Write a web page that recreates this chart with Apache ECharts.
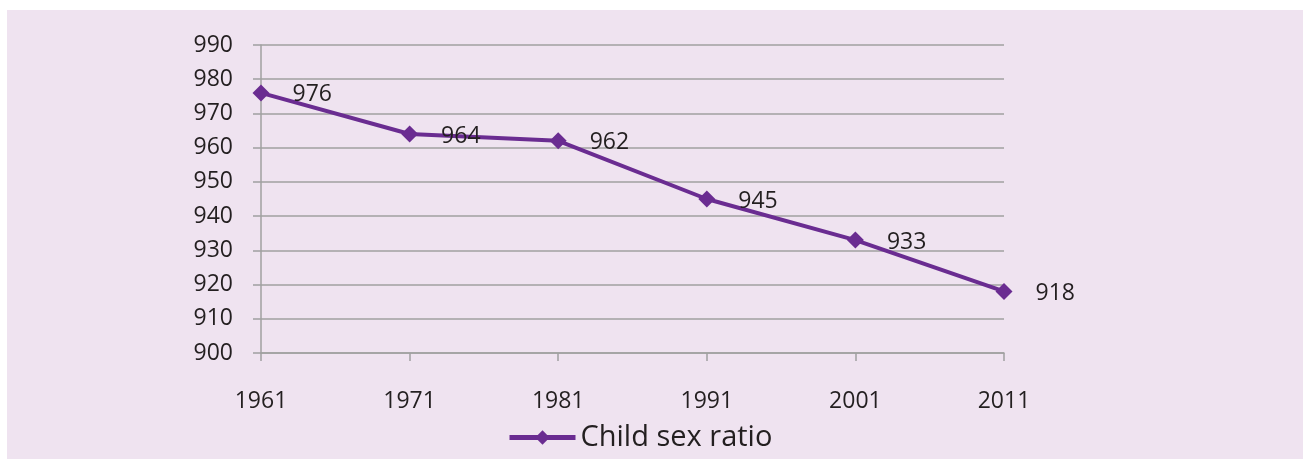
<!DOCTYPE html>
<html>
<head>
<meta charset="utf-8">
<script src="https://cdn.jsdelivr.net/npm/echarts@6/dist/echarts.min.js"></script>
<style>
  html, body { margin: 0; padding: 0; background: #ffffff; }
  #grafico { position: absolute; left: 7px; top: 10px; width: 1296px; height: 449px; background: #efe3f0; }
</style>
</head>
<body>
<div id="grafico"></div>
<script>
// data
const years = ["1961", "1971", "1981", "1991", "2001", "2011"];
const childSexRatio = [976, 964, 962, 945, 933, 918];
const seriesName = "Child sex ratio";

const textColor = "#231f20";
const lineColor = "#6a2c91";
const gridColor = "#a0a0a0";

let options = {
  animation: false,
  textStyle: { fontFamily: "Open Sans" },
  grid: { left: 254, right: 299, top: 35, bottom: 106 },
  legend: {
    left: 495,
    bottom: 2,
    itemWidth: 66,
    itemHeight: 18,
    itemGap: 10,
    lineStyle: { width: 5 },
    textStyle: { fontSize: 29, color: textColor, fontFamily: "Open Sans" },
    data: [seriesName]
  },
  xAxis: {
    type: "category",
    data: years,
    boundaryGap: false,
    axisLine: { lineStyle: { color: gridColor, width: 1.5 } },
    axisTick: { show: true, length: 8, lineStyle: { color: gridColor, width: 1.5 } },
    axisLabel: { color: textColor, fontSize: 23, margin: 37 }
  },
  yAxis: {
    type: "value",
    min: 900,
    max: 990,
    interval: 10,
    axisLine: { show: true, lineStyle: { color: gridColor, width: 1.5 } },
    axisTick: { show: true, length: 8, lineStyle: { color: gridColor, width: 1.5 } },
    axisLabel: { color: textColor, fontSize: 23, margin: 28 },
    splitLine: { lineStyle: { color: gridColor, width: 1.5 } }
  },
  series: [
    {
      name: seriesName,
      type: "line",
      data: childSexRatio,
      symbol: "diamond",
      symbolSize: 17,
      lineStyle: { color: lineColor, width: 4 },
      itemStyle: { color: lineColor },
      label: {
        show: true,
        position: "right",
        distance: 23,
        offset: [0, 2],
        fontSize: 23,
        color: textColor
      }
    }
  ]
};

let chart = echarts.init(document.getElementById("grafico"));
chart.setOption(options);
</script>
</body>
</html>
